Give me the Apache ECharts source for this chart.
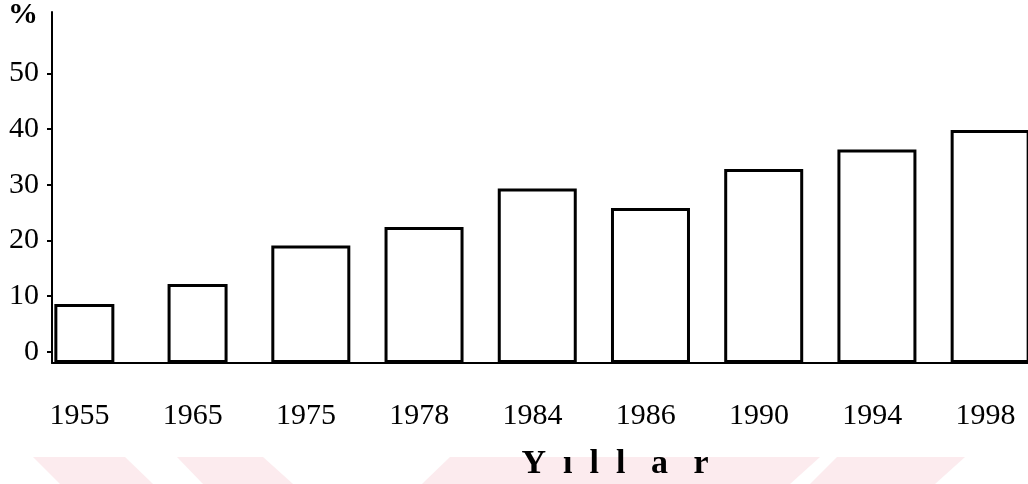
<!DOCTYPE html>
<html>
<head>
<meta charset="utf-8">
<script src="https://cdn.jsdelivr.net/npm/echarts@6.0.0/dist/echarts.min.js"></script>
<style>
html,body{margin:0;padding:0;background:#fff;}
#chart{width:1028px;height:484px;}
</style>
</head>
<body>
<div id="chart"></div>
<script>
// ---- data ----
const years = ['1955', '1965', '1975', '1978', '1984', '1986', '1990', '1994', '1998'];
const shares = [8.6, 12.2, 19.1, 22.4, 29.3, 25.8, 32.8, 36.3, 39.8];
const yTickValues = [0, 10, 20, 30, 40, 50];
const narrowCount = 2; // the first two bars are drawn narrower in the original
const yAxisTitle = '%';
const xAxisTitle = 'Y  ı  l  l   a   r';

const yMin = -2, yMax = 61;
const serif = '"Liberation Serif", "DejaVu Serif", serif';

const wideData = shares.map((v, i) => (i >= narrowCount ? v : null));
const narrowData = shares.map((v, i) => (i < narrowCount ? v : null));

const chart = echarts.init(document.getElementById('chart'), null, { renderer: 'canvas' });

const pink = '#fcebee';
const option = {
  backgroundColor: '#ffffff',
  animation: false,
  graphic: [
    { type: 'polygon', z: -10, silent: true, shape: { points: [[33, 457], [125, 457], [153, 484], [60, 484]] }, style: { fill: pink } },
    { type: 'polygon', z: -10, silent: true, shape: { points: [[177, 457], [263, 457], [293, 484], [203, 484]] }, style: { fill: pink } },
    { type: 'polygon', z: -10, silent: true, shape: { points: [[450, 457], [820, 457], [790, 484], [422, 484]] }, style: { fill: pink } },
    { type: 'polygon', z: -10, silent: true, shape: { points: [[837, 457], [965, 457], [935, 484], [810, 484]] }, style: { fill: pink } },
    {
      type: 'text', z: 10, x: 615, y: 464,
      style: { text: xAxisTitle, fill: '#000', font: 'bold 34px ' + serif, textAlign: 'center', textVerticalAlign: 'middle' }
    }
  ],
  grid: [
    { left: 23, right: -14, top: 12, bottom: 121, outerBoundsMode: 'none', containLabel: false },
    { left: 52, right: -20, top: 12, bottom: 121, outerBoundsMode: 'none', containLabel: false }
  ],
  xAxis: [
    {
      type: 'category', gridIndex: 0, data: years,
      axisLine: { show: false, onZero: false },
      axisTick: { show: false },
      axisLabel: { color: '#000', fontFamily: serif, fontSize: 30, margin: 38 }
    },
    {
      type: 'category', gridIndex: 1, data: years,
      axisLine: { show: true, onZero: false, lineStyle: { color: '#000', width: 2 } },
      axisTick: { show: false },
      axisLabel: { show: false }
    }
  ],
  yAxis: [
    {
      type: 'value', gridIndex: 0, min: yMin, max: yMax, startValue: yMin,
      show: false, splitLine: { show: false }
    },
    {
      type: 'value', gridIndex: 1, min: yMin, max: yMax,
      splitLine: { show: false },
      axisLine: { show: true, onZero: false, lineStyle: { color: '#000', width: 2 } },
      axisTick: { show: true, length: 5, customValues: yTickValues, lineStyle: { color: '#000', width: 2 } },
      axisLabel: { color: '#000', fontFamily: serif, fontSize: 30, margin: 13, customValues: yTickValues },
      name: yAxisTitle,
      nameLocation: 'end',
      nameGap: -18,
      nameTextStyle: { color: '#000', fontFamily: serif, fontWeight: 'bold', fontSize: 30, align: 'right', padding: [0, 14, 0, 0] }
    }
  ],
  series: [
    {
      type: 'bar', xAxisIndex: 0, yAxisIndex: 0, data: wideData,
      barWidth: 79, barGap: '-88%',
      itemStyle: { color: '#fff', borderColor: '#000', borderWidth: 3 }
    },
    {
      type: 'bar', xAxisIndex: 0, yAxisIndex: 0, data: narrowData,
      barWidth: 60, barGap: '-88%',
      itemStyle: { color: '#fff', borderColor: '#000', borderWidth: 3 }
    }
  ]
};
chart.setOption(option);
</script>
</body>
</html>
